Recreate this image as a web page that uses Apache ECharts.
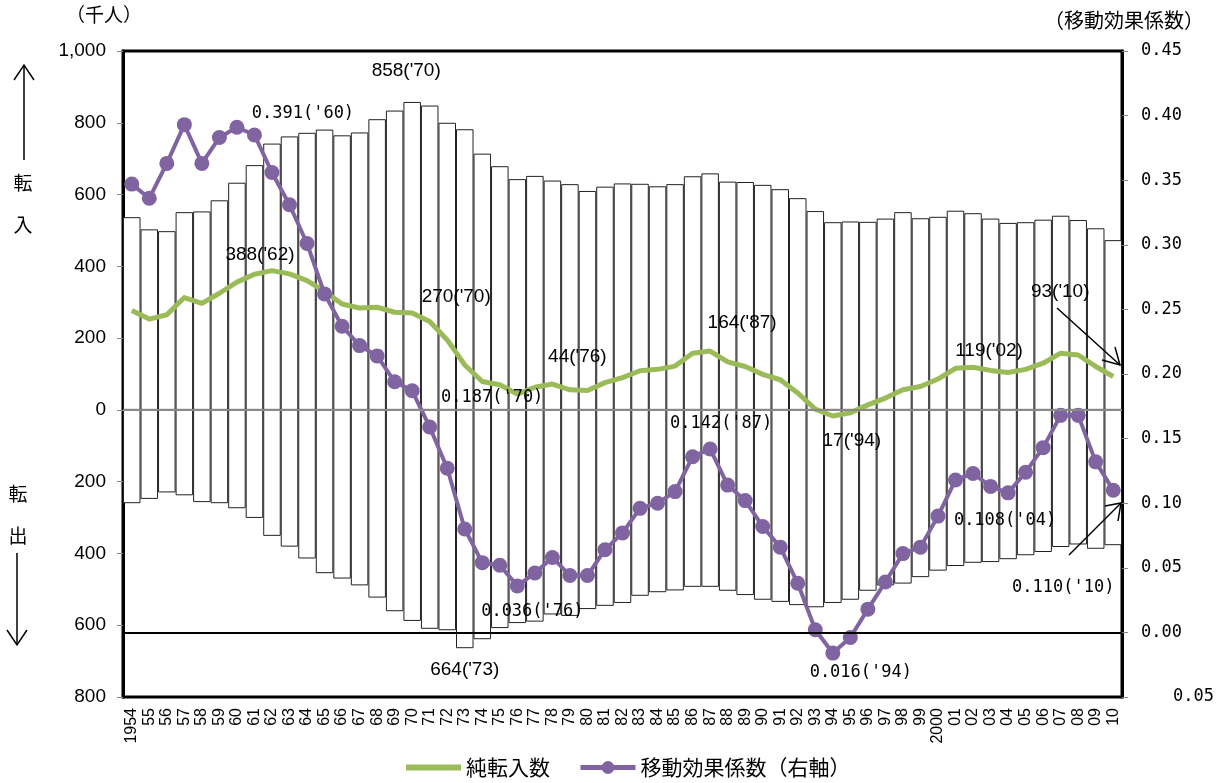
<!DOCTYPE html>
<html><head><meta charset="utf-8">
<script src="https://cdn.jsdelivr.net/npm/echarts@6/dist/echarts.min.js"></script>
<style>html,body{margin:0;padding:0;background:#fff}#c{width:1225px;height:783px}</style>
</head><body><div id="c"></div>
<script>
const years = ['1954','55','56','57','58','59','60','61','62','63','64','65','66','67','68','69','70','71','72','73','74','75','76','77','78','79','80','81','82','83','84','85','86','87','88','89','90','91','92','93','94','95','96','97','98','99','2000','01','02','03','04','05','06','07','08','09','10'];
// 転入数 (千人)
const inflow = [537,503,498,551,553,584,633,682,742,762,772,781,765,773,810,834,858,848,800,782,714,679,643,652,639,629,610,622,631,630,623,629,651,659,636,635,627,615,590,554,523,525,524,533,551,534,538,555,548,533,521,523,530,541,529,506,473];
// 転出数 (千人)
const outflow = [260,248,230,238,257,260,274,301,351,381,414,455,470,489,523,561,588,610,614,664,639,608,594,590,570,574,555,546,538,518,508,503,493,493,504,516,529,535,544,550,538,529,504,489,484,466,448,435,426,424,416,405,396,382,375,387,377];
// 純転入数 (千人)
const netMigration = [277,253,265,313,297,325,356,378,388,379,360,330,295,284,286,272,270,246,195,125,79,70,44,63,72,56,54,76,90,109,113,122,158,164,134,121,99,84,47,2,-17,-8,14,33,56,65,86,116,119,110,104,113,130,158,153,121,93];
// 移動効果係数 (右軸)
const effectiveness = [0.347,0.336,0.363,0.393,0.363,0.383,0.391,0.385,0.356,0.331,0.301,0.262,0.237,0.222,0.214,0.194,0.187,0.159,0.127,0.080,0.054,0.052,0.036,0.046,0.058,0.044,0.044,0.064,0.077,0.096,0.100,0.109,0.136,0.142,0.114,0.102,0.082,0.066,0.038,0.002,-0.016,-0.004,0.018,0.039,0.061,0.066,0.090,0.118,0.123,0.113,0.108,0.124,0.143,0.168,0.168,0.132,0.110];

const leftTitle = '（千人）';
const rightTitle = '（移動効果係数）';
const netName = '純転入数';
const effName = '移動効果係数（右軸）';

// annotation texts tied to data points (year, text)
const netNotes = [['62',"388('62)"],['70',"270('70)"],['76',"44('76)"],['87',"164('87)"],['94',"17('94)"],['02',"119('02)"],['10',"93('10)"]];
const effNotes = [['60',"0.391('60)"],['70',"0.187('70)"],['87',"0.142('87)"],['76',"0.036('76)"],['94',"0.016('94)"],['04',"0.108('04)"],['10',"0.110('10)"]];
const inNotes = [['70',"858('70)"]];
const outNotes = [['73',"664('73)"]];

// label offsets (layout only)
const netOffsets = [[-12,-16],[44,-16],[60,-37],[32,-28],[19,25],[16,-16],[-53,-85]];
const effOffsets = [[66,-14],[80,7],[11,-25],[15,26],[28,20],[-3,28],[-50,97]];
const inOffsets = [[-6,-31]];
const outOffsets = [[0,22]];

const SANS = 'Liberation Sans, Arial, sans-serif';
const MONO = '"DejaVu Sans Mono", monospace';
const CJK = '"Noto Sans CJK JP", sans-serif';

function mp(notes, offsets, arr, sign, font, size) {
  return {
    symbol: 'circle', symbolSize: 0, silent: true,
    itemStyle: {color: 'rgba(0,0,0,0)'},
    data: notes.map((n, i) => ({
      coord: [n[0], sign * arr[years.indexOf(n[0])]],
      label: {show: true, formatter: n[1], offset: offsets[i], color: '#000', fontFamily: font, fontSize: size}
    }))
  };
}

const chart = echarts.init(document.getElementById('c'));
chart.setOption({
  animation: false,
  backgroundColor: '#fff',
  grid: {left: 123, right: 103, top: 51, bottom: 86, show: true, borderColor: '#000', borderWidth: 3, backgroundColor: 'transparent'},
  legend: {
    left: 398, top: 752, itemWidth: 55, itemHeight: 16, itemGap: 28,
    textStyle: {fontFamily: CJK, fontSize: 21, color: '#000'},
    data: [
      {name: netName, itemStyle: {color: 'rgba(0,0,0,0)', borderWidth: 0}, lineStyle: {width: 6, color: '#9BBB59'}},
      {name: effName, lineStyle: {width: 5, color: '#8064A2'}}
    ]
  },
  xAxis: {
    type: 'category', data: years, boundaryGap: true,
    axisLine: {show: false}, axisTick: {show: false},
    axisLabel: {interval: 0, rotate: 90, fontSize: 16, fontFamily: SANS, color: '#000', margin: 11}
  },
  yAxis: [{
    type: 'value', min: -800, max: 1000, interval: 200, position: 'left',
    splitLine: {show: false},
    axisLine: {show: true, lineStyle: {color: '#000', width: 3}},
    axisTick: {show: true, length: 6, lineStyle: {color: '#888'}},
    axisLabel: {fontSize: 19, fontFamily: SANS, color: '#000', margin: 17,
      formatter: v => Math.abs(v).toLocaleString('en-US')}
  }, {
    type: 'value', min: -0.05, max: 0.45, interval: 0.05, position: 'right',
    splitLine: {show: false},
    axisLine: {show: true, lineStyle: {color: '#000', width: 3}},
    axisTick: {show: true, length: 6, lineStyle: {color: '#888'}},
    axisLabel: {fontSize: 17, fontFamily: MONO, color: '#000', margin: 19,
      formatter: v => v < -0.0001 ? '{n|' + Math.abs(v).toFixed(2) + '}' : Math.abs(v).toFixed(2),
      rich: {n: {fontSize: 17, fontFamily: MONO, color: '#000', padding: [0, 0, 0, 32]}}}
  }],
  series: [{
    name: '転入数', type: 'bar', data: inflow, barGap: '-100%', barCategoryGap: '0%', z: 1,
    itemStyle: {color: '#fff', borderColor: '#222', borderWidth: 1},
    markLine: {silent: true, symbol: 'none', label: {show: false}, lineStyle: {color: '#888', width: 2, type: 'solid'}, data: [{yAxis: 0}]},
    markPoint: mp(inNotes, inOffsets, inflow, 1, SANS, 19)
  }, {
    name: '転出数', type: 'bar', data: outflow.map(v => -v), z: 1,
    itemStyle: {color: '#fff', borderColor: '#222', borderWidth: 1},
    markPoint: mp(outNotes, outOffsets, outflow, -1, SANS, 19)
  }, {
    name: netName, type: 'line', data: netMigration, symbol: 'none', z: 3,
    lineStyle: {color: '#9BBB59', width: 5, join: 'round'}, itemStyle: {color: '#9BBB59'},
    markPoint: mp(netNotes, netOffsets, netMigration, 1, SANS, 19)
  }, {
    name: effName, type: 'line', yAxisIndex: 1, data: effectiveness, z: 4,
    symbol: 'circle', symbolSize: 15,
    lineStyle: {color: '#8064A2', width: 4, join: 'round'}, itemStyle: {color: '#8064A2'},
    markLine: {silent: true, symbol: 'none', label: {show: false}, lineStyle: {color: '#000', width: 2, type: 'solid'}, data: [{yAxis: 0}]},
    markPoint: mp(effNotes, effOffsets, effectiveness, 1, MONO, 17)
  }],
  graphic: [
    {type: 'text', left: 66, top: 5, style: {text: leftTitle, fontFamily: CJK, fontSize: 19, fill: '#000'}},
    {type: 'text', left: 1044, top: 10, style: {text: rightTitle, fontFamily: CJK, fontSize: 20, fill: '#000'}},
    {type: 'text', x: 23, y: 183, style: {text: '転', fontFamily: CJK, fontSize: 19, fill: '#000', align: 'center', verticalAlign: 'middle'}},
    {type: 'text', x: 23, y: 225, style: {text: '入', fontFamily: CJK, fontSize: 19, fill: '#000', align: 'center', verticalAlign: 'middle'}},
    {type: 'text', x: 18, y: 494, style: {text: '転', fontFamily: CJK, fontSize: 19, fill: '#000', align: 'center', verticalAlign: 'middle'}},
    {type: 'text', x: 18, y: 536, style: {text: '出', fontFamily: CJK, fontSize: 19, fill: '#000', align: 'center', verticalAlign: 'middle'}},
    {type: 'polyline', shape: {points: [[24, 160], [24, 65]]}, style: {stroke: '#000', lineWidth: 1.5}},
    {type: 'polyline', shape: {points: [[14, 80], [24, 65], [34, 80]]}, style: {stroke: '#000', lineWidth: 1.5, fill: null}},
    {type: 'polyline', shape: {points: [[17, 553], [17, 645]]}, style: {stroke: '#000', lineWidth: 1.5}},
    {type: 'polyline', shape: {points: [[7, 630], [17, 645], [27, 630]]}, style: {stroke: '#000', lineWidth: 1.5, fill: null}},
    {type: 'polyline', z: 10, shape: {points: [[1057, 308], [1120, 365]]}, style: {stroke: '#000', lineWidth: 1.5}},
    {type: 'polyline', z: 10, shape: {points: [[1102, 360], [1120, 365], [1115, 347]]}, style: {stroke: '#000', lineWidth: 1.5, fill: null}},
    {type: 'polyline', z: 10, shape: {points: [[1069, 555], [1121, 503]]}, style: {stroke: '#000', lineWidth: 1.5}},
    {type: 'polyline', z: 10, shape: {points: [[1105, 506], [1121, 503], [1118, 521]]}, style: {stroke: '#000', lineWidth: 1.5, fill: null}}
  ]
});
</script></body></html>
